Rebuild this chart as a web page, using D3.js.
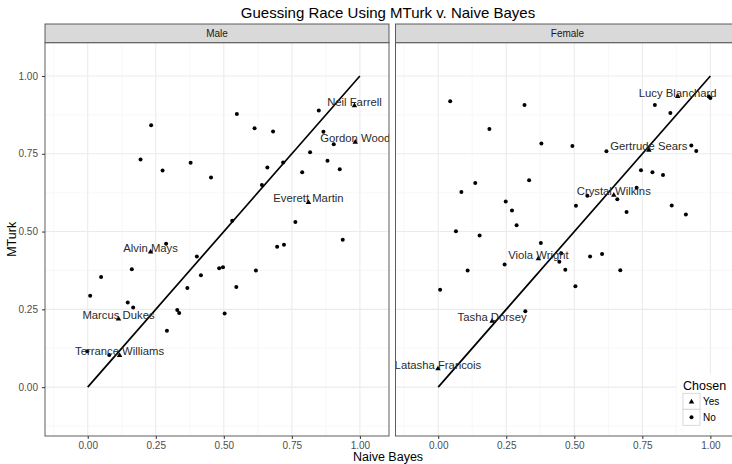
<!DOCTYPE html>
<html>
<head>
<meta charset="utf-8">
<script src="https://cdn.jsdelivr.net/npm/d3@7"></script>
<style>
    body { margin: 0; background: #fff; }
    text { font-family: "Liberation Sans", Arial, sans-serif; }
</style>
</head>
<body>
<div id="chart-container"></div>
<script>
// Panels (facets).
const genders = ["Male", "Female"];

// Chosen names (triangles) per panel.
const maleYesNames = ["Neil Farrell", "Gordon Wood", "Everett Martin", "Alvin Mays", "Marcus Dukes", "Terrance Williams"];
const maleYesBayes = [0.980, 0.983, 0.811, 0.231, 0.113, 0.117];
const maleYesMTurk = [0.905, 0.787, 0.594, 0.435, 0.219, 0.102];

const femaleYesNames = ["Lucy Blanchard", "Gertrude Sears", "Crystal Wilkins", "Viola Wright", "Tasha Dorsey", "Latasha Francois"];
const femaleYesBayes = [0.880, 0.774, 0.645, 0.368, 0.198, -0.001];
const femaleYesMTurk = [0.934, 0.762, 0.617, 0.413, 0.212, 0.059];

// Not chosen (dots).
const maleNoBayes = [0.233, 0.194, 0.275, 0.378, 0.453, 0.548, 0.613, 0.681, 0.660, 0.718,
    0.640, 0.788, 0.817, 0.849, 0.866, 0.904, 0.881, 0.926, 0.763, 0.531,
    0.937, 0.696, 0.721, 0.288, 0.401, 0.162, 0.049, 0.416, 0.483, 0.497,
    0.618, 0.366, 0.546, 0.009, 0.147, 0.167, 0.329, 0.336, 0.503, 0.291,
    -0.002, 0.079];
const maleNoMTurk = [0.842, 0.732, 0.696, 0.721, 0.674, 0.878, 0.832, 0.822, 0.706, 0.722,
    0.650, 0.691, 0.755, 0.889, 0.821, 0.781, 0.728, 0.700, 0.531, 0.535,
    0.474, 0.451, 0.458, 0.461, 0.420, 0.379, 0.354, 0.360, 0.382, 0.385,
    0.375, 0.319, 0.322, 0.294, 0.272, 0.256, 0.248, 0.238, 0.237, 0.181,
    0.115, 0.103];

const femaleNoBayes = [0.044, 0.317, 0.188, 0.379, 0.493, 0.618, 0.796, 0.853, 0.994, 1.000,
    0.930, 0.948, 0.745, 0.787, 0.826, 0.729, 0.136, 0.085, 0.334, 0.658,
    0.548, 0.248, 0.271, 0.506, 0.692, 0.858, 0.910, 0.288, 0.065, 0.152,
    0.377, 0.452, 0.445, 0.467, 0.244, 0.108, 0.558, 0.602, 0.669, 0.504,
    0.007, 0.320];
const femaleNoMTurk = [0.919, 0.907, 0.830, 0.783, 0.775, 0.758, 0.907, 0.881, 0.934, 0.929,
    0.777, 0.759, 0.697, 0.691, 0.682, 0.641, 0.656, 0.627, 0.665, 0.604,
    0.615, 0.597, 0.568, 0.583, 0.563, 0.584, 0.555, 0.520, 0.501, 0.487,
    0.463, 0.430, 0.403, 0.377, 0.394, 0.375, 0.420, 0.428, 0.376, 0.324,
    0.313, 0.244];

// Reference line y = x.
const refLineX = [0, 1];
const refLineY = [0, 1];

const tickValues = [0, 0.25, 0.5, 0.75, 1];
const minorValues = [-0.125, 0.125, 0.375, 0.625, 0.875];
const legendLabels = ["Yes", "No"];

const chartWidth = 732;
const chartHeight = 464;
const panelTop = 42.7;
const panelBottom = 436;
const panelWidth = 344;
const panelLefts = [45, 395.5];
const stripTop = 24;
const domain = [-0.157, 1.107];

const panelData = [
    {yesNames: maleYesNames, yesX: maleYesBayes, yesY: maleYesMTurk, noX: maleNoBayes, noY: maleNoMTurk},
    {yesNames: femaleYesNames, yesX: femaleYesBayes, yesY: femaleYesMTurk, noX: femaleNoBayes, noY: femaleNoMTurk}
];

const y = d3.scaleLinear()
    .domain(domain)
    .range([panelBottom, panelTop]);

const chart = d3.select("#chart-container").append("svg")
    .attr("width", chartWidth)
    .attr("height", chartHeight);

const triangle = d3.symbol().type(d3.symbolTriangle).size(13);

genders.forEach((gender, i) => {
    const left = panelLefts[i];
    const x = d3.scaleLinear()
        .domain(domain)
        .range([left, left + panelWidth]);
    const p = panelData[i];

    const g = chart.append("g");

    g.append("clipPath")
        .attr("id", "clip" + i)
        .append("rect")
        .attr("x", left)
        .attr("y", panelTop)
        .attr("width", panelWidth)
        .attr("height", panelBottom - panelTop);

    // grid
    g.selectAll(".minor-x")
        .data(minorValues)
        .enter().append("line")
        .attr("x1", d => x(d)).attr("x2", d => x(d))
        .attr("y1", panelTop).attr("y2", panelBottom)
        .attr("stroke", "#f3f3f3").attr("stroke-width", 0.6);
    g.selectAll(".minor-y")
        .data(minorValues)
        .enter().append("line")
        .attr("x1", left).attr("x2", left + panelWidth)
        .attr("y1", d => y(d)).attr("y2", d => y(d))
        .attr("stroke", "#f3f3f3").attr("stroke-width", 0.6);
    g.selectAll(".major-x")
        .data(tickValues)
        .enter().append("line")
        .attr("x1", d => x(d)).attr("x2", d => x(d))
        .attr("y1", panelTop).attr("y2", panelBottom)
        .attr("stroke", "#ebebeb").attr("stroke-width", 1.1);
    g.selectAll(".major-y")
        .data(tickValues)
        .enter().append("line")
        .attr("x1", left).attr("x2", left + panelWidth)
        .attr("y1", d => y(d)).attr("y2", d => y(d))
        .attr("stroke", "#ebebeb").attr("stroke-width", 1.1);

    const marks = g.append("g").attr("clip-path", "url(#clip" + i + ")");

    // y = x line
    marks.append("path")
        .datum(refLineX.map((d, k) => [d, refLineY[k]]))
        .attr("d", d3.line().x(d => x(d[0])).y(d => y(d[1])))
        .attr("fill", "none")
        .attr("stroke", "#000")
        .attr("stroke-width", 1.7);

    marks.selectAll(".dot")
        .data(p.noX.map((d, k) => [d, p.noY[k]]))
        .enter().append("circle")
        .attr("cx", d => x(d[0]))
        .attr("cy", d => y(d[1]))
        .attr("r", 2)
        .attr("fill", "#000");

    marks.selectAll(".tri")
        .data(p.yesX.map((d, k) => [d, p.yesY[k]]))
        .enter().append("path")
        .attr("d", triangle)
        .attr("transform", d => `translate(${x(d[0])},${y(d[1])})`)
        .attr("fill", "#000");

    marks.selectAll(".name")
        .data(p.yesNames)
        .enter().append("text")
        .attr("x", (d, k) => x(p.yesX[k]))
        .attr("y", (d, k) => y(p.yesY[k]))
        .attr("text-anchor", "middle")
        .attr("font-size", "11.3px")
        .attr("fill", "#2b2b2b")
        .text(d => d);

    // panel border
    g.append("rect")
        .attr("x", left)
        .attr("y", panelTop)
        .attr("width", panelWidth)
        .attr("height", panelBottom - panelTop)
        .attr("fill", "none")
        .attr("stroke", "#4d4d4d")
        .attr("stroke-width", 0.9);

    // strip
    g.append("rect")
        .attr("x", left)
        .attr("y", stripTop)
        .attr("width", panelWidth)
        .attr("height", panelTop - stripTop)
        .attr("fill", "#d9d9d9")
        .attr("stroke", "#4d4d4d")
        .attr("stroke-width", 0.9);
    g.append("text")
        .attr("x", left + panelWidth / 2)
        .attr("y", (stripTop + panelTop) / 2)
        .attr("dy", "0.35em")
        .attr("text-anchor", "middle")
        .attr("font-size", "10px")
        .attr("fill", "#1a1a1a")
        .text(gender);

    // x-axis
    const xAxis = g.append("g")
        .attr("transform", `translate(0, ${panelBottom})`)
        .call(d3.axisBottom(x).tickValues(tickValues).tickSize(3).tickPadding(3).tickFormat(d3.format(".2f")));
    xAxis.select(".domain").remove();
    xAxis.selectAll("line").attr("stroke", "#333");
    xAxis.selectAll("text")
        .attr("fill", "#4d4d4d")
        .attr("font-size", "10px")
        .attr("font-family", "Liberation Sans, Arial, sans-serif");

    if (i === 0) {
        const yAxis = g.append("g")
            .attr("transform", `translate(${left}, 0)`)
            .call(d3.axisLeft(y).tickValues(tickValues).tickSize(3).tickPadding(4).tickFormat(d3.format(".2f")));
        yAxis.select(".domain").remove();
        yAxis.selectAll("line").attr("stroke", "#333");
        yAxis.selectAll("text")
            .attr("fill", "#4d4d4d")
            .attr("font-size", "10px")
            .attr("font-family", "Liberation Sans, Arial, sans-serif");
    }
});

// title and axis titles
chart.append("text")
    .attr("x", 388)
    .attr("y", 18)
    .attr("text-anchor", "middle")
    .attr("font-size", "15px")
    .attr("fill", "#000")
    .text("Guessing Race Using MTurk v. Naive Bayes");

chart.append("text")
    .attr("x", 388)
    .attr("y", 461)
    .attr("text-anchor", "middle")
    .attr("font-size", "12.5px")
    .attr("fill", "#000")
    .text("Naive Bayes");

chart.append("text")
    .attr("transform", `translate(16, ${(panelTop + panelBottom) / 2}) rotate(-90)`)
    .attr("text-anchor", "middle")
    .attr("font-size", "12.5px")
    .attr("fill", "#000")
    .text("MTurk");

// legend
const legend = chart.append("g");
legend.append("rect")
    .attr("x", 677).attr("y", 374)
    .attr("width", 62).attr("height", 58)
    .attr("fill", "#fff");
legend.append("text")
    .attr("x", 683).attr("y", 390)
    .attr("font-size", "12.5px")
    .attr("fill", "#000")
    .text("Chosen");

legendLabels.forEach((label, k) => {
    const top = 393.3 + k * 16;
    legend.append("rect")
        .attr("x", 683).attr("y", top)
        .attr("width", 17).attr("height", 16)
        .attr("fill", "#fff")
        .attr("stroke", "#d0d0d0")
        .attr("stroke-width", 0.8);
    if (k === 0) {
        legend.append("path")
            .attr("d", triangle)
            .attr("transform", `translate(691.5, ${top + 8.5})`)
            .attr("fill", "#000");
    } else {
        legend.append("circle")
            .attr("cx", 691.5).attr("cy", top + 8)
            .attr("r", 2)
            .attr("fill", "#000");
    }
    legend.append("text")
        .attr("x", 703).attr("y", top + 8)
        .attr("dy", "0.35em")
        .attr("font-size", "10px")
        .attr("fill", "#000")
        .text(label);
});
</script>
</body>
</html>
